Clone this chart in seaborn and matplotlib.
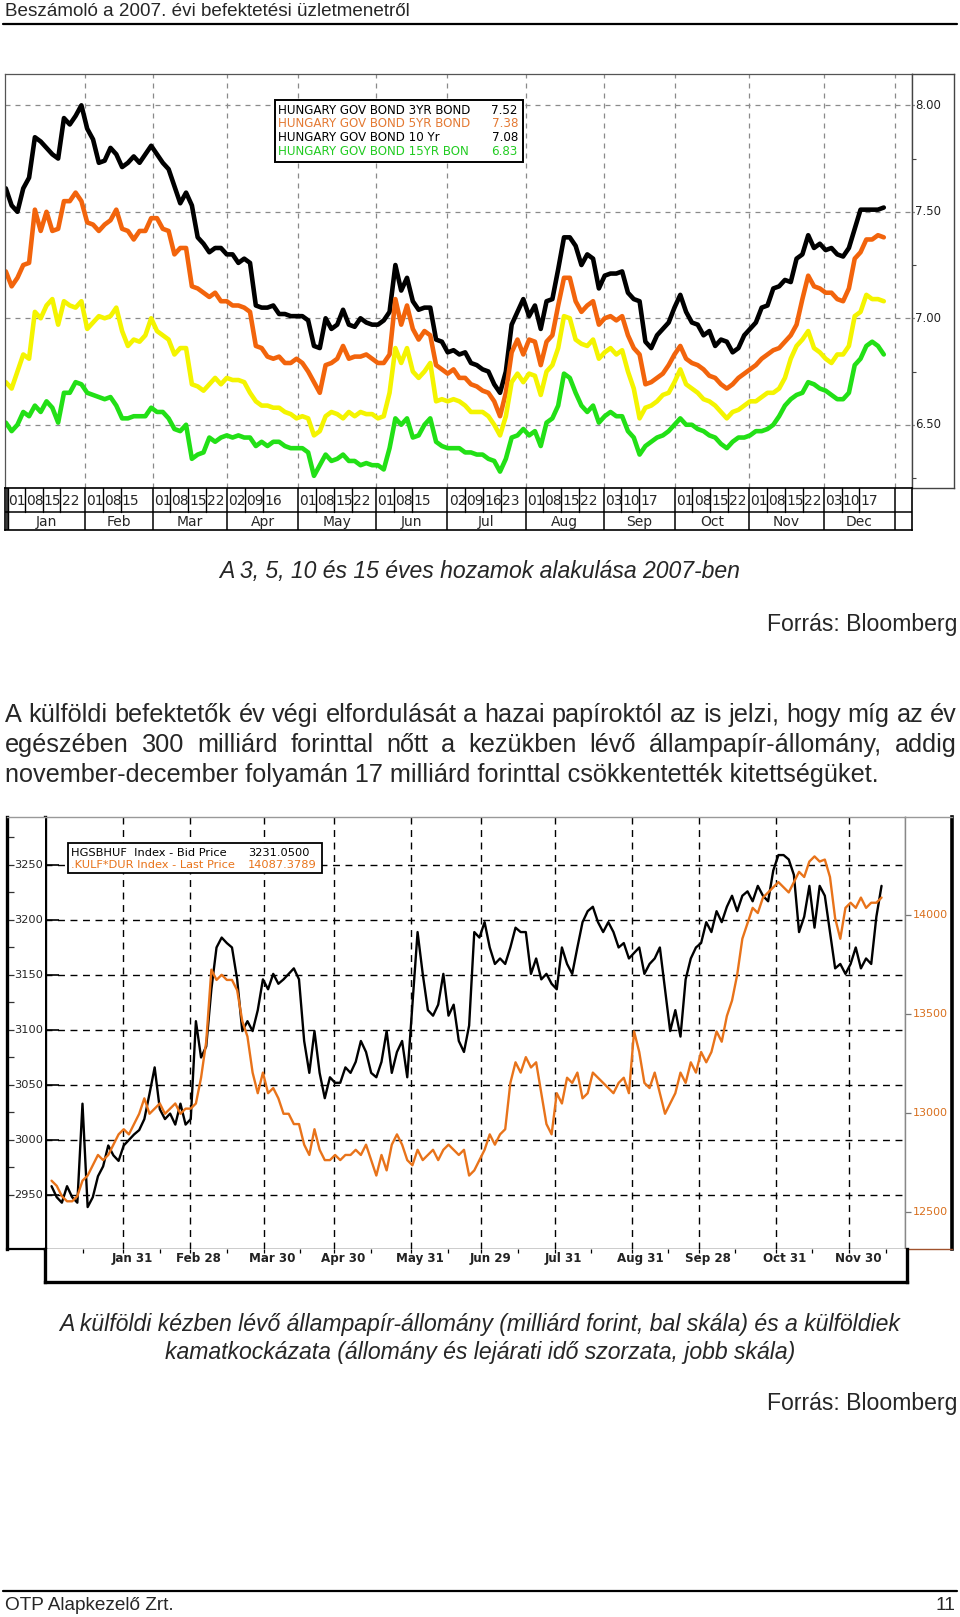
import numpy as np
import pandas as pd
import matplotlib
matplotlib.use("Agg")
import matplotlib.pyplot as plt
import matplotlib.transforms as mtransforms
from matplotlib.lines import Line2D
from matplotlib.patches import Rectangle
import seaborn as sns

# ---------------------------------------------------------------- data
# Top chart: Hungarian government bond yields in 2007 (one sample every ~1.64 trading days)
top_first_day = -0.33
top_step_days = 1.637
yield_3y = [7.61, 7.53, 7.50, 7.61, 7.66, 7.85, 7.83, 7.80, 7.77, 7.75,
            7.94, 7.91, 7.95, 8.00, 7.89, 7.84, 7.73, 7.74, 7.80, 7.77,
            7.71, 7.73, 7.76, 7.73, 7.77, 7.81, 7.77, 7.73, 7.70, 7.62,
            7.54, 7.59, 7.53, 7.38, 7.35, 7.31, 7.33, 7.33, 7.30, 7.30,
            7.26, 7.28, 7.26, 7.06, 7.05, 7.05, 7.06, 7.02, 7.02, 7.01,
            7.01, 7.01, 6.99, 6.87, 6.86, 7.00, 6.95, 6.97, 7.04, 6.97,
            6.96, 7.00, 6.98, 6.97, 6.97, 6.99, 7.03, 7.25, 7.13, 7.19,
            7.08, 7.04, 7.05, 7.05, 6.90, 6.89, 6.84, 6.85, 6.83, 6.84,
            6.79, 6.78, 6.76, 6.75, 6.69, 6.65, 6.75, 6.97, 7.03, 7.09,
            7.01, 7.06, 6.95, 7.08, 7.09, 7.23, 7.38, 7.38, 7.34, 7.25,
            7.30, 7.28, 7.14, 7.20, 7.21, 7.21, 7.22, 7.12, 7.09, 7.08,
            6.89, 6.86, 6.92, 6.95, 6.98, 7.05, 7.11, 7.03, 6.98, 6.97,
            6.92, 6.94, 6.87, 6.90, 6.89, 6.84, 6.86, 6.92, 6.95, 6.98,
            7.05, 7.06, 7.14, 7.15, 7.18, 7.17, 7.28, 7.30, 7.39, 7.33,
            7.35, 7.32, 7.33, 7.30, 7.29, 7.33, 7.42, 7.51, 7.51, 7.51,
            7.51, 7.52]
yield_5y = [7.22, 7.15, 7.19, 7.25, 7.26, 7.51, 7.41, 7.50, 7.41, 7.42,
            7.55, 7.55, 7.59, 7.55, 7.45, 7.44, 7.41, 7.44, 7.46, 7.51,
            7.42, 7.41, 7.37, 7.41, 7.41, 7.47, 7.47, 7.42, 7.41, 7.30,
            7.33, 7.33, 7.15, 7.14, 7.12, 7.10, 7.12, 7.08, 7.08, 7.06,
            7.06, 7.05, 7.03, 6.87, 6.86, 6.82, 6.81, 6.82, 6.79, 6.79,
            6.81, 6.79, 6.75, 6.70, 6.65, 6.78, 6.79, 6.81, 6.87, 6.81,
            6.82, 6.82, 6.83, 6.81, 6.79, 6.79, 6.83, 7.09, 6.97, 7.06,
            6.95, 6.90, 6.94, 6.92, 6.78, 6.76, 6.74, 6.76, 6.72, 6.72,
            6.69, 6.68, 6.66, 6.65, 6.61, 6.54, 6.65, 6.84, 6.90, 6.83,
            6.90, 6.89, 6.78, 6.89, 6.92, 7.06, 7.19, 7.19, 7.08, 7.03,
            7.06, 7.08, 6.97, 7.00, 7.01, 6.99, 7.01, 6.92, 6.86, 6.83,
            6.69, 6.70, 6.72, 6.74, 6.78, 6.83, 6.87, 6.81, 6.79, 6.78,
            6.76, 6.73, 6.72, 6.69, 6.67, 6.69, 6.72, 6.74, 6.76, 6.78,
            6.81, 6.83, 6.85, 6.86, 6.89, 6.92, 6.97, 7.09, 7.20, 7.15,
            7.14, 7.12, 7.12, 7.09, 7.08, 7.14, 7.28, 7.31, 7.37, 7.37,
            7.39, 7.38]
yield_10y = [6.70, 6.67, 6.75, 6.83, 6.81, 7.03, 7.00, 7.06, 7.09, 6.97,
             7.08, 7.06, 7.05, 7.08, 6.95, 6.98, 7.01, 7.00, 7.01, 7.05,
             6.94, 6.87, 6.90, 6.89, 6.92, 7.00, 6.94, 6.92, 6.90, 6.83,
             6.86, 6.86, 6.69, 6.68, 6.66, 6.69, 6.72, 6.69, 6.72, 6.71,
             6.71, 6.70, 6.65, 6.61, 6.59, 6.59, 6.58, 6.58, 6.56, 6.55,
             6.53, 6.54, 6.53, 6.45, 6.47, 6.54, 6.56, 6.55, 6.53, 6.56,
             6.54, 6.56, 6.55, 6.55, 6.53, 6.54, 6.65, 6.86, 6.79, 6.86,
             6.75, 6.72, 6.75, 6.79, 6.61, 6.62, 6.61, 6.62, 6.61, 6.59,
             6.56, 6.56, 6.56, 6.54, 6.50, 6.45, 6.54, 6.70, 6.74, 6.70,
             6.74, 6.73, 6.64, 6.75, 6.78, 6.86, 7.01, 7.00, 6.90, 6.88,
             6.87, 6.90, 6.81, 6.84, 6.86, 6.83, 6.85, 6.75, 6.67, 6.53,
             6.58, 6.59, 6.61, 6.64, 6.65, 6.70, 6.76, 6.69, 6.67, 6.65,
             6.62, 6.61, 6.59, 6.56, 6.53, 6.56, 6.57, 6.59, 6.61, 6.61,
             6.63, 6.65, 6.65, 6.67, 6.72, 6.81, 6.87, 6.90, 6.94, 6.86,
             6.84, 6.81, 6.79, 6.83, 6.83, 6.87, 7.01, 7.03, 7.11, 7.09,
             7.09, 7.08]
yield_15y = [6.51, 6.47, 6.50, 6.56, 6.54, 6.59, 6.56, 6.61, 6.58, 6.51,
             6.65, 6.65, 6.70, 6.69, 6.65, 6.64, 6.63, 6.62, 6.63, 6.59,
             6.53, 6.53, 6.54, 6.54, 6.54, 6.58, 6.56, 6.56, 6.53, 6.48,
             6.47, 6.50, 6.34, 6.36, 6.37, 6.44, 6.42, 6.44, 6.45, 6.44,
             6.45, 6.44, 6.44, 6.40, 6.42, 6.40, 6.42, 6.42, 6.40, 6.39,
             6.39, 6.39, 6.37, 6.26, 6.31, 6.36, 6.33, 6.34, 6.36, 6.33,
             6.33, 6.31, 6.32, 6.31, 6.31, 6.29, 6.39, 6.53, 6.50, 6.53,
             6.44, 6.45, 6.50, 6.53, 6.42, 6.40, 6.39, 6.39, 6.39, 6.37,
             6.37, 6.36, 6.36, 6.34, 6.33, 6.28, 6.34, 6.44, 6.45, 6.48,
             6.45, 6.47, 6.40, 6.51, 6.53, 6.59, 6.74, 6.72, 6.65, 6.59,
             6.56, 6.59, 6.51, 6.54, 6.56, 6.54, 6.54, 6.47, 6.44, 6.36,
             6.40, 6.42, 6.44, 6.45, 6.47, 6.50, 6.53, 6.50, 6.50, 6.48,
             6.47, 6.45, 6.44, 6.41, 6.39, 6.42, 6.44, 6.44, 6.45, 6.47,
             6.47, 6.48, 6.50, 6.54, 6.59, 6.62, 6.64, 6.65, 6.70, 6.69,
             6.67, 6.66, 6.64, 6.62, 6.62, 6.65, 6.78, 6.81, 6.87, 6.89,
             6.87, 6.83]
top_names = ["HUNGARY GOV BOND 3YR BOND", "HUNGARY GOV BOND 5YR BOND",
             "HUNGARY GOV BOND 10 Yr", "HUNGARY GOV BOND 15YR BON"]
top_last = ["7.52", "7.38", "7.08", "6.83"]
top_yticks = [6.5, 7.0, 7.5, 8.0]
months = ["Jan", "Feb", "Mar", "Apr", "May", "Jun", "Jul", "Aug", "Sep", "Oct", "Nov", "Dec"]
month_trading_days = [22, 19, 21, 20, 22, 20, 22, 22, 20, 21, 21, 20]
week_labels = [["01", "08", "15", "22"], ["01", "08", "15"], ["01", "08", "15", "22"],
               ["02", "09", "16"], ["01", "08", "15", "22"], ["01", "08", "15"],
               ["02", "09", "16", "23"], ["01", "08", "15", "22"], ["03", "10", "17"],
               ["01", "08", "15", "22"], ["01", "08", "15", "22"], ["03", "10", "17"]]

# Bottom chart: foreign holdings (bn HUF, left) and their duration risk (right)
bot_first_day = 0.65
bot_step_days = 1.5406
hgsbhuf = [2958, 2948, 2943, 2958, 2948, 2943, 3033, 2939, 2948, 2967,
           2976, 2995, 2986, 2981, 2995, 3000, 3005, 3009, 3019, 3042,
           3066, 3028, 3019, 3024, 3014, 3033, 3014, 3019, 3108, 3075,
           3085, 3137, 3175, 3184, 3179, 3175, 3146, 3099, 3108, 3099,
           3118, 3146, 3137, 3151, 3142, 3146, 3151, 3156, 3146, 3090,
           3061, 3099, 3061, 3038, 3057, 3052, 3052, 3066, 3061, 3071,
           3090, 3080, 3061, 3057, 3071, 3099, 3061, 3080, 3090, 3057,
           3123, 3189, 3151, 3118, 3113, 3123, 3151, 3113, 3123, 3090,
           3080, 3104, 3189, 3184, 3198, 3175, 3160, 3165, 3160, 3175,
           3193, 3189, 3189, 3151, 3165, 3146, 3151, 3142, 3137, 3175,
           3160, 3151, 3175, 3198, 3208, 3212, 3198, 3189, 3198, 3189,
           3175, 3179, 3165, 3170, 3175, 3151, 3160, 3165, 3175, 3137,
           3099, 3118, 3094, 3146, 3165, 3175, 3179, 3198, 3189, 3208,
           3198, 3212, 3222, 3208, 3222, 3226, 3217, 3231, 3222, 3217,
           3245, 3259, 3259, 3255, 3241, 3189, 3203, 3231, 3193, 3231,
           3222, 3189, 3156, 3160, 3151, 3160, 3175, 3156, 3165, 3160,
           3203, 3231]
kulf_dur = [12658, 12632, 12580, 12554, 12554, 12580, 12658, 12684, 12736, 12788,
            12762, 12788, 12840, 12892, 12918, 12892, 12944, 12996, 13074, 12996,
            13022, 13048, 12996, 13022, 13048, 12996, 13022, 13022, 13048, 13178,
            13360, 13724, 13672, 13698, 13672, 13672, 13620, 13464, 13386, 13204,
            13100, 13204, 13100, 13126, 13074, 12996, 12996, 12944, 12944, 12840,
            12788, 12918, 12814, 12762, 12762, 12788, 12762, 12788, 12788, 12814,
            12788, 12840, 12762, 12684, 12788, 12710, 12840, 12892, 12840, 12762,
            12736, 12814, 12762, 12788, 12814, 12762, 12814, 12840, 12814, 12788,
            12814, 12684, 12710, 12762, 12814, 12892, 12840, 12892, 12918, 13152,
            13256, 13204, 13282, 13230, 13256, 13100, 12944, 12892, 13100, 13048,
            13178, 13152, 13204, 13074, 13100, 13204, 13178, 13152, 13126, 13100,
            13152, 13178, 13100, 13412, 13308, 13152, 13126, 13204, 13100, 12996,
            13048, 13100, 13204, 13152, 13256, 13204, 13308, 13256, 13308, 13412,
            13360, 13490, 13568, 13698, 13880, 13958, 14036, 14010, 14088, 14114,
            14140, 14166, 14140, 14114, 14166, 14218, 14192, 14270, 14296, 14270,
            14280, 14192, 13984, 13880, 14036, 14062, 14036, 14088, 14036, 14062,
            14062, 14088]
left_ticks = [2950, 3000, 3050, 3100, 3150, 3200, 3250]
right_ticks = [12500, 13000, 13500, 14000]
month_end_dates = ["2007-01-31", "2007-02-28", "2007-03-30", "2007-04-30", "2007-05-31",
                   "2007-06-29", "2007-07-31", "2007-08-31", "2007-09-28", "2007-10-31",
                   "2007-11-30"]
month_end_labels = ["Jan 31", "Feb 28", "Mar 30", "Apr 30", "May 31", "Jun 29",
                    "Jul 31", "Aug 31", "Sep 28", "Oct 31", "Nov 30"]
bot_legend = [("HGSBHUF  Index - Bid Price", "3231.0500"),
              (".KULF*DUR Index - Last Price", "14087.3789")]

# ---------------------------------------------------------------- figure
sns.set_theme(style="white")
plt.rcParams['font.family'] = ['Liberation Sans', 'DejaVu Sans']

W, H = 960, 1617
fig = plt.figure(figsize=(W / 100, H / 100), dpi=100)
fig.patch.set_facecolor("white")


def box(x0, y0, x1, y1):
    return [x0 / W, 1 - y1 / H, (x1 - x0) / W, (y1 - y0) / H]


def T(x, y, s, **kw):
    return fig.text(x / W, 1 - y / H, s, **kw)


def hline(x0, x1, y, **kw):
    fig.add_artist(Line2D([x0 / W, x1 / W], [1 - y / H, 1 - y / H], transform=fig.transFigure, **kw))


renderer = fig.canvas.get_renderer()

# header / footer
T(5, 11, "Beszámoló a 2007. évi befektetési üzletmenetről", fontsize=13.6, va="center", ha="left")
hline(3, 957, 24, color="black", lw=1.6)
hline(3, 957, 1591, color="black", lw=1.6)
T(5, 1605, "OTP Alapkezelő Zrt.", fontsize=13.7, va="center", ha="left")
T(955, 1605, "11", fontsize=13.7, va="center", ha="right")

# ---------------------------------------------------------------- top chart
top_days = top_first_day + top_step_days * np.arange(len(yield_3y))
bounds = np.concatenate([[0], np.cumsum(month_trading_days)])
XL = (-0.56, 254.8)
YL = (6.203, 8.147)

ax1 = fig.add_axes(box(5, 74, 912, 488))
ax1.set_xlim(*XL)
ax1.set_ylim(*YL)
for v in top_yticks:
    ax1.axhline(v, color="#8a8a8a", lw=0.9, ls=(0, (4, 4)), zorder=0.5)
for b in bounds[1:]:
    ax1.axvline(b, color="#8a8a8a", lw=0.9, ls=(0, (4, 4)), zorder=0.5)
top_colors = ["#000000", "#F2640C", "#F4F400", "#22E016"]
for vals, c in zip([yield_3y, yield_5y, yield_10y, yield_15y], top_colors):
    sns.lineplot(x=top_days, y=vals, ax=ax1, color=c, linewidth=3.3,
                 solid_capstyle="round", errorbar=None, legend=False)
ax1.set_xticks([])
ax1.set_yticks([])
ax1.set_xlabel("")
ax1.set_ylabel("")
for s in ax1.spines.values():
    s.set_color("#555555")
    s.set_linewidth(0.9)

# legend of top chart
fig.add_artist(Rectangle((275 / W, 1 - 162 / H), 248 / W, 62 / H, transform=fig.transFigure,
                         facecolor="white", edgecolor="black", lw=1.4, zorder=5))
leg_colors = ["#000000", "#E47A34", "#000000", "#22CC22"]
for i, (nm, lv, c) in enumerate(zip(top_names, top_last, leg_colors)):
    y = 110 + i * 13.7
    T(278, y, nm, fontsize=8.6, color=c, va="center", ha="left", family="DejaVu Sans", zorder=6)
    T(518, y, lv, fontsize=8.6, color=c, va="center", ha="right", family="DejaVu Sans", zorder=6)

# right value panel
axr = fig.add_axes(box(912, 74, 954, 488))
axr.set_ylim(*YL)
axr.set_xlim(0, 1)
axr.set_xticks([])
axr.set_yticks([6.25, 6.75, 7.25, 7.75])
axr.tick_params(axis="y", direction="in", length=3, width=0.8, left=True, labelleft=False, color="#444444")
for v in top_yticks:
    axr.plot([0, 0.06], [v, v], color="#8a8a8a", lw=0.9, ls=(0, (2, 2)))
    axr.text(0.07, v, f"{v:.2f}", fontsize=8.5, va="center", ha="left", family="DejaVu Sans", color="#222222")
for s in axr.spines.values():
    s.set_color("#444444")
    s.set_linewidth(1.0)

# date table
axt = fig.add_axes(box(5, 488, 912, 530))
axt.set_xlim(*XL)
axt.set_ylim(0, 1)
axt.set_xticks([])
axt.set_yticks([])
axt.axhline(0.43, color="black", lw=1.1)
for b in bounds:
    axt.plot([b, b], [0, 1], color="black", lw=1.1)
axt.plot([XL[0] + 0.9, XL[0] + 0.9], [0, 1], color="black", lw=1.0)
for m, labs in enumerate(week_labels):
    for j, lab in enumerate(labs):
        pos = bounds[m] + 5 * j
        if j > 0:
            axt.plot([pos, pos], [0.43, 1], color="black", lw=1.0)
        axt.text(pos + 0.35, 0.70, lab, fontsize=10, va="center", ha="left", family="DejaVu Sans")
    axt.text((bounds[m] + bounds[m + 1]) / 2, 0.19, months[m], fontsize=10, va="center",
             ha="center", family="DejaVu Sans")
for s in axt.spines.values():
    s.set_color("black")
    s.set_linewidth(1.2)

# captions
T(480, 571, "A 3, 5, 10 és 15 éves hozamok alakulása 2007-ben", fontsize=16.6, style="italic",
  va="center", ha="center")
T(957, 624, "Forrás: Bloomberg", fontsize=16.6, va="center", ha="right")


def justify_line(text, y, x0, x1, size):
    words = text.split(" ")
    arts = [T(0, y, w, fontsize=size, va="center", ha="left") for w in words]
    widths = [a.get_window_extent(renderer).width for a in arts]
    gap = (x1 - x0 - sum(widths)) / (len(words) - 1)
    x = x0
    for a, w in zip(arts, widths):
        a.set_x(x / W)
        x += w + gap


para = ["A külföldi befektetők év végi elfordulását a hazai papíroktól az is jelzi, hogy míg az év",
        "egészében 300 milliárd forinttal nőtt a kezükben lévő állampapír-állomány, addig",
        "november-december folyamán 17 milliárd forinttal csökkentették kitettségüket."]
PS = 18.2
justify_line(para[0], 715, 5, 957, PS)
justify_line(para[1], 745, 5, 957, PS)
T(5, 775, para[2], fontsize=PS, va="center", ha="left")

# ---------------------------------------------------------------- bottom chart
bdays = pd.bdate_range("2007-01-01", "2007-12-31")
end_pos = bdays.get_indexer(pd.to_datetime(month_end_dates))
mid_pos = bdays.searchsorted(pd.to_datetime([f"2007-{m:02d}-15" for m in range(1, 13)]))
bot_days = bot_first_day + bot_step_days * np.arange(len(hgsbhuf))
BXL = (-1.31, 255.7)
BYL = (2900.9, 3293.6)
BYR = (12313.0, 14495.0)

axb = fig.add_axes(box(45, 817, 905, 1249))
axb.set_xlim(*BXL)
axb.set_ylim(*BYL)
for v in left_ticks:
    axb.axhline(v, color="black", lw=1.0, ls=(0, (5, 4)), zorder=0.5)
for p in end_pos:
    axb.axvline(p, color="black", lw=1.0, ls=(0, (5, 4)), zorder=0.5)
sns.lineplot(x=bot_days, y=hgsbhuf, ax=axb, color="black", linewidth=1.7, errorbar=None, legend=False)
axb.set_xticks([])
axb.set_yticks(left_ticks)
axb.tick_params(axis="y", direction="in", length=10, width=1.2, left=True, labelleft=False, color="black")
axb.set_xlabel("")
axb.set_ylabel("")
axb.spines["left"].set_linewidth(2.4)
axb.spines["left"].set_color("black")
axb.spines["top"].set_color("#999999")
axb.spines["top"].set_linewidth(1.0)
axb.spines["right"].set_color("#888888")
axb.spines["right"].set_linewidth(1.0)
axb.spines["bottom"].set_color("black")
axb.spines["bottom"].set_linewidth(1.0)

axb2 = axb.twinx()
axb2.set_ylim(*BYR)
sns.lineplot(x=bot_days, y=kulf_dur, ax=axb2, color="#E8731A", linewidth=1.7, errorbar=None, legend=False)
axb2.set_yticks([])
axb2.set_ylabel("")
axb2.set_xlim(*BXL)
for s in axb2.spines.values():
    s.set_visible(False)

# bottom legend
fig.add_artist(Rectangle((68 / W, 1 - 873 / H), 254 / W, 30 / H, transform=fig.transFigure,
                         facecolor="white", edgecolor="black", lw=1.3, zorder=5))
for i, ((nm, lv), c) in enumerate(zip(bot_legend, ["#000000", "#E8731A"])):
    y = 853 + i * 12.5
    T(71, y, nm, fontsize=8.2, color=c, va="center", ha="left", family="DejaVu Sans", zorder=6)
    T(248, y, lv, fontsize=8.2, color=c, va="center", ha="left", family="DejaVu Sans", zorder=6)

# left label panel
axl = fig.add_axes(box(7, 817, 45, 1249))
axl.set_ylim(*BYL)
axl.set_xlim(0, 1)
axl.set_xticks([])
axl.set_yticks(left_ticks)
axl.set_yticks([v + 25 for v in left_ticks], minor=True)
axl.tick_params(axis="y", which="both", direction="in", length=5, width=0.9, left=True,
                labelleft=False, color="#333333")
for v in left_ticks:
    axl.text(0.57, v, str(v), fontsize=8.2, va="center", ha="center", family="DejaVu Sans")
axl.spines["left"].set_linewidth(2.4)
axl.spines["left"].set_color("black")
axl.spines["bottom"].set_linewidth(1.6)
axl.spines["bottom"].set_color("black")
axl.spines["top"].set_color("#999999")
axl.spines["top"].set_linewidth(1.0)
axl.spines["right"].set_visible(False)

# right label panel
axrb = fig.add_axes(box(905, 817, 952, 1249))
axrb.set_ylim(*BYR)
axrb.set_xlim(0, 1)
axrb.set_xticks([])
axrb.set_yticks(right_ticks)
axrb.tick_params(axis="y", direction="in", length=4, width=0.9, left=True, labelleft=False, color="#777777")
for v in right_ticks:
    axrb.text(0.16, v, str(v), fontsize=8, va="center", ha="left", family="DejaVu Sans", color="#D9701E")
axrb.spines["left"].set_color("#888888")
axrb.spines["left"].set_linewidth(1.0)
axrb.spines["right"].set_color("black")
axrb.spines["right"].set_linewidth(2.6)
axrb.spines["top"].set_color("#999999")
axrb.spines["top"].set_linewidth(1.0)
axrb.spines["bottom"].set_color("#A0522D")
axrb.spines["bottom"].set_linewidth(1.0)

# date panel
axd = fig.add_axes(box(45, 1249, 907, 1282))
axd.set_xlim(BXL[0], BXL[0] + (BXL[1] - BXL[0]) * 862 / 860)
axd.set_ylim(0, 1)
axd.set_yticks([])
axd.set_xticks(list(end_pos) + list(mid_pos))
axd.tick_params(axis="x", direction="in", length=3, width=0.9, top=True, bottom=False,
                labelbottom=False, color="black")
lab_tr = mtransforms.offset_copy(mtransforms.blended_transform_factory(axd.transData, axd.transAxes),
                                 fig=fig, x=9, y=0, units="dots")
for p, lab in zip(end_pos, month_end_labels):
    axd.text(p, 0.72, lab, transform=lab_tr, fontsize=8.6, fontweight="bold", color="#222222",
             va="center", ha="center", family="DejaVu Sans")
axd.spines["top"].set_visible(False)
for k in ["left", "bottom", "right"]:
    axd.spines[k].set_linewidth(2.4)
    axd.spines[k].set_color("black")

# captions of bottom chart
T(480, 1324, "A külföldi kézben lévő állampapír-állomány (milliárd forint, bal skála) és a külföldiek",
  fontsize=16.6, style="italic", va="center", ha="center")
T(480, 1352, "kamatkockázata (állomány és lejárati idő szorzata, jobb skála)",
  fontsize=16.6, style="italic", va="center", ha="center")
T(957, 1403, "Forrás: Bloomberg", fontsize=16.6, va="center", ha="right")

fig.savefig("out.png", dpi=100, facecolor="white")
